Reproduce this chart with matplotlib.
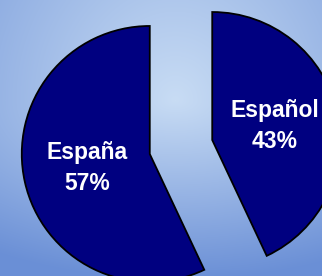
import numpy as np
import matplotlib
matplotlib.use('Agg')
import matplotlib.pyplot as plt

# data
labels = ['España', 'Español']
values = [57, 43]

W, H = 322, 276
fig = plt.figure(figsize=(W/100, H/100), dpi=100)

# background gradient (light centre, darker to the edges / bottom)
bg = fig.add_axes([0, 0, 1, 1])
yy, xx = np.mgrid[0:H, 0:W]
dx = (xx - 175) / 340.0
dy = np.where(yy > 100, (yy - 100) / 180.0, (yy - 100) / 380.0)
t = np.clip(np.sqrt(dx**2 + dy**2), 0, 1)[..., None]
light = np.array([200, 220, 244]) / 255
dark = np.array([106, 143, 214]) / 255
img = light * (1 - t) + dark * t
bg.imshow(img, extent=[0, W, H, 0], aspect='auto')
bg.axis('off')

# pie in pixel-like coordinates (y up)
ax = fig.add_axes([0, 0, 1, 1])
r = 128
cx, cy = 181, 129
# explode is in data units here
wedges, _ = ax.pie(values, radius=r, center=(cx, cy), startangle=90,
                   explode=[32, 32], colors=['#000080', '#000080'],
                   wedgeprops=dict(edgecolor='black', linewidth=1.3),
                   frame=True)
ax.set_xlim(0, W)
ax.set_ylim(0, H)
ax.set_aspect('equal')
ax.axis('off')

for w, name, v in zip(wedges, labels, values):
    mid = np.deg2rad((w.theta1 + w.theta2) / 2)
    x0, y0 = w.center
    tx = x0 + 0.5 * r * np.cos(mid)
    ty = y0 + 0.5 * r * np.sin(mid)
    ax.text(tx, ty, f'{name}\n{v}%', ha='center', va='center', color='white',
            fontsize=16.5, fontweight='bold', family='Liberation Sans',
            linespacing=1.4)

fig.savefig('out.png', dpi=100)
